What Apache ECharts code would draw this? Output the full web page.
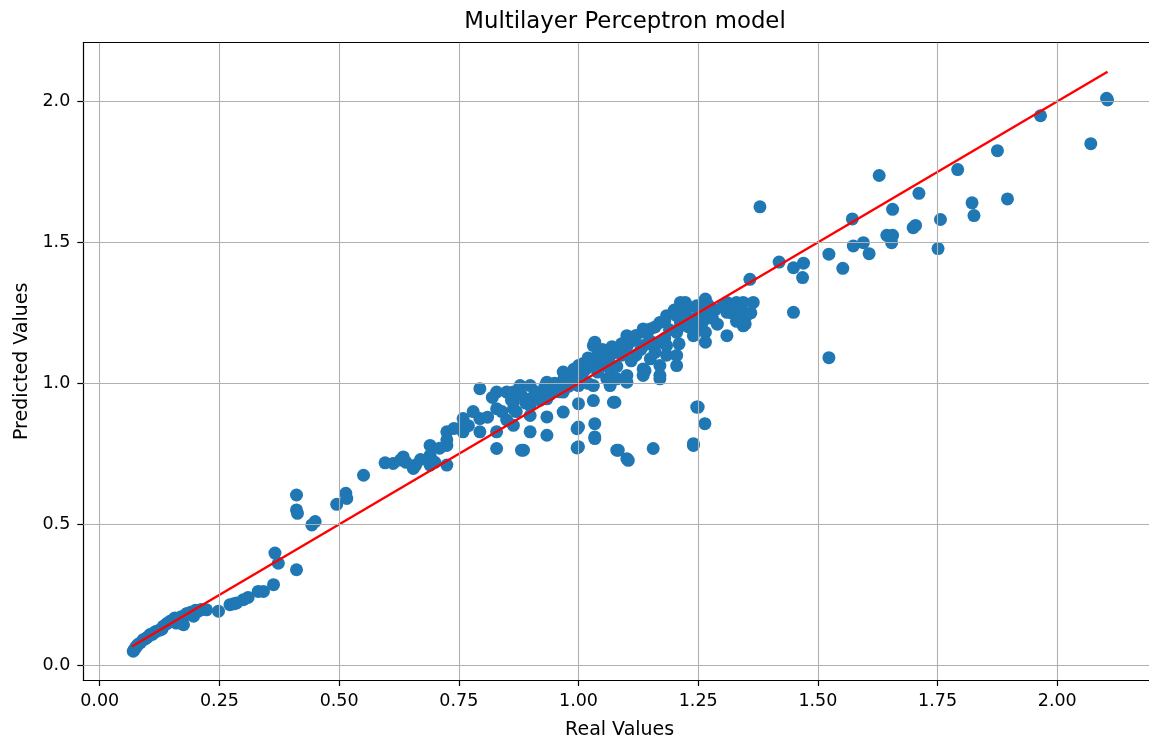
<!DOCTYPE html>
<html>
<head>
<meta charset="utf-8">
<script src="https://cdn.jsdelivr.net/npm/echarts@6/dist/echarts.min.js"></script>
<style>html,body{margin:0;padding:0;background:#fff;overflow:hidden;width:1149px;height:745px}#c{width:1162px;height:745px}</style>
</head>
<body>
<div id="c"></div>
<script>
const chartTitle = 'Multilayer Perceptron model';
const xName = 'Real Values';
const yName = 'Predicted Values';
const xTicks = [0, 0.25, 0.5, 0.75, 1.0, 1.25, 1.5, 1.75, 2.0];
const yTicks = [0, 0.5, 1.0, 1.5, 2.0];
const lineX = [0.067, 2.105];
const lineY = [0.067, 2.105];

const realValues = [
0.070,0.072,0.075,0.077,0.080,0.085,0.091,0.095,0.100,0.105,0.110,0.115,0.119,0.125,0.130,0.133,0.140,0.147,0.152,0.157,0.160,0.165,0.170,0.175,0.180,0.182,0.190,0.196,0.200,0.206,0.212,0.223,0.248,0.272,0.280,0.286,0.300,0.310,0.331,0.342,0.363,0.366,0.373,0.411,0.411,0.411,0.413,0.443,0.450,0.495,0.514,0.516,0.551,
0.596,0.613,0.628,0.634,0.655,0.660,0.690,0.690,0.690,0.725,0.725,0.725,0.725,0.759,0.759,0.759,0.794,0.794,0.794,0.829,0.829,0.829,0.829,0.850,0.864,0.864,0.864,0.864,0.878,0.881,0.885,0.899,0.899,0.899,0.899,0.899,0.915,0.934,0.934,0.934,0.934,0.934,0.950,0.968,0.968,0.968,0.968,0.985,0.997,0.997,1.000,1.000,1.000,1.000,1.000,1.000,1.015,1.031,1.031,1.031,1.031,1.034,1.034,1.034,1.034,1.045,1.052,1.059,1.066,1.066,1.066,1.069,1.073,1.073,1.076,1.080,1.083,1.080,1.101,1.101,1.101,1.101,1.101,1.101,1.104,1.115,1.120,1.135,1.135,1.135,1.139,1.135,1.150,1.150,1.150,1.156,1.170,1.170,1.170,1.170,1.170,1.184,1.184,1.184,1.205,1.205,1.205,1.205,1.213,1.213,1.213,1.219,1.223,1.227,1.240,1.240,1.240,1.240,1.247,1.247,1.250,1.247,1.264,1.265,1.265,1.265,1.265,1.265,1.285,1.290,1.310,1.310,1.310,1.323,1.330,1.344,1.344,1.344,1.344,1.348,1.351,1.358,1.365,1.379,1.419,1.449,1.449,1.470,1.468,
0.86,0.87,0.88,0.89,0.91,0.92,0.93,0.94,0.95,0.96,0.97,0.98,0.99,0.99,1.01,1.01,1.02,1.02,1.04,1.04,1.05,1.06,1.07,1.08,1.09,1.09,1.11,1.11,1.12,1.13,1.14,1.15,1.16,1.16,1.18,1.18,1.19,1.20,1.21,1.22,1.23,1.23,1.25,1.26,1.27,1.28,1.30,1.32,1.33,1.34,1.36,
0.81,0.82,0.84,0.85,0.78,0.77,0.74,0.71,0.70,0.67,0.64,
1.523,1.523,1.552,1.572,1.574,1.595,1.607,1.628,1.644,1.654,1.656,1.656,1.699,1.704,1.711,1.751,1.756,1.792,1.822,1.826,1.875,1.896,1.965,2.070,2.103,2.105
];
const predictedValues = [
0.050,0.056,0.062,0.068,0.074,0.080,0.091,0.094,0.100,0.109,0.110,0.118,0.121,0.125,0.128,0.139,0.148,0.156,0.160,0.168,0.150,0.165,0.172,0.144,0.180,0.184,0.188,0.174,0.195,0.192,0.198,0.197,0.192,0.215,0.218,0.221,0.233,0.241,0.262,0.262,0.286,0.398,0.362,0.339,0.604,0.551,0.539,0.498,0.510,0.571,0.610,0.592,0.674,
0.718,0.716,0.728,0.739,0.698,0.710,0.780,0.745,0.710,0.828,0.780,0.710,0.800,0.875,0.828,0.850,0.981,0.875,0.828,0.969,0.910,0.828,0.769,0.969,0.969,0.910,0.851,0.933,0.992,0.763,0.763,0.992,0.945,0.886,0.828,0.922,0.960,1.004,0.945,0.881,0.816,0.963,0.990,1.040,0.969,0.898,1.010,1.030,0.839,0.771,1.063,0.992,0.928,0.845,0.775,1.030,1.050,1.134,1.063,0.992,0.939,0.857,0.810,0.804,1.146,1.080,1.063,1.016,1.098,0.992,1.051,1.110,0.933,1.110,0.933,0.763,0.763,1.016,1.169,1.130,1.004,1.028,1.150,0.733,0.727,1.157,1.100,1.193,1.134,1.051,1.045,1.028,1.193,1.087,1.150,0.769,1.216,1.146,1.016,1.063,1.028,1.240,1.134,1.100,1.240,1.181,1.063,1.099,1.287,1.216,1.204,1.281,1.287,1.230,1.228,1.169,0.780,0.786,0.916,1.193,0.916,1.275,0.857,1.299,1.240,1.181,1.146,1.275,1.260,1.210,1.252,1.169,1.287,1.275,1.287,1.287,1.210,1.240,1.204,1.210,1.240,1.369,1.287,1.626,1.430,1.410,1.252,1.426,1.375,
0.94,0.90,0.96,0.93,0.97,0.94,0.99,0.96,1.00,0.97,1.02,0.99,1.05,1.01,1.04,1.07,1.00,1.09,1.10,1.04,1.12,1.08,1.13,1.06,1.14,1.10,1.15,1.08,1.17,1.12,1.18,1.14,1.20,1.11,1.22,1.16,1.19,1.26,1.14,1.25,1.20,1.27,1.24,1.22,1.28,1.23,1.27,1.25,1.22,1.26,1.25,
0.88,0.95,0.90,0.87,0.90,0.85,0.84,0.77,0.72,0.73,0.72,
1.091,1.458,1.408,1.583,1.487,1.499,1.460,1.737,1.525,1.499,1.617,1.525,1.552,1.560,1.674,1.478,1.581,1.758,1.640,1.595,1.825,1.654,1.949,1.850,2.011,2.005
];

const pts = realValues.map((x, i) => [x, predictedValues[i]]);
const linePts = lineX.map((x, i) => [x, lineY[i]]);
const gridLines = xTicks.map(v => ({xAxis: v})).concat(yTicks.map(v => ({yAxis: v})));

const font = 'DejaVu Sans';
const chart = echarts.init(document.getElementById('c'), null, {renderer: 'canvas', width: 1162, height: 745});
chart.setOption({
  animation: false,
  backgroundColor: '#ffffff',
  textStyle: {fontFamily: font},
  title: {
    text: chartTitle, left: 620, top: 6, textAlign: 'center',
    textStyle: {fontFamily: font, fontSize: 22.8, fontWeight: 'normal', color: '#000'}
  },
  grid: {left: 83.3, top: 42.7, width: 1072.7, height: 639.6, containLabel: false},
  xAxis: [{
    type: 'value', min: -0.0343, max: 2.2062,
    name: xName, nameLocation: 'middle', nameGap: 41,
    nameTextStyle: {fontFamily: font, fontSize: 19, color: '#000'},
    axisLine: {show: true, onZero: false, lineStyle: {color: '#000', width: 1.2}},
    axisTick: {show: true, length: 6, customValues: xTicks, lineStyle: {color: '#000', width: 1.2}},
    axisLabel: {customValues: xTicks, margin: 12, fontFamily: font, fontSize: 17.5, color: '#000',
      formatter: v => v.toFixed(2)},
    splitLine: {show: false}
  }, {
    type: 'value', position: 'top', min: -0.0343, max: 2.2062,
    axisLine: {show: true, onZero: false, lineStyle: {color: '#000', width: 1.2}},
    axisTick: {show: false}, axisLabel: {show: false}, splitLine: {show: false}
  }],
  yAxis: {
    type: 'value', min: -0.052, max: 2.208,
    name: yName, nameLocation: 'middle', nameGap: 50,
    nameTextStyle: {fontFamily: font, fontSize: 19, color: '#000'},
    axisLine: {show: true, onZero: false, lineStyle: {color: '#000', width: 1.2}},
    axisTick: {show: true, length: 6, customValues: yTicks, lineStyle: {color: '#000', width: 1.2}},
    axisLabel: {customValues: yTicks, margin: 13, fontFamily: font, fontSize: 17.5, color: '#000',
      formatter: v => v.toFixed(1)},
    splitLine: {show: false}
  },
  series: [
    {
      type: 'scatter', data: pts, symbolSize: 13, z: 2,
      itemStyle: {color: '#1f77b4', opacity: 1}
    },
    {
      type: 'line', data: [], z: 3, silent: true,
      markLine: {
        silent: true, symbol: ['none', 'none'], label: {show: false},
        lineStyle: {color: '#b0b0b0', width: 1.1, type: 'solid'},
        emphasis: {disabled: true},
        data: gridLines
      }
    },
    {
      type: 'line', data: linePts, z: 4, symbol: 'none', silent: true,
      lineStyle: {color: '#ff0000', width: 2.4}
    }
  ]
});
</script>
</body>
</html>
